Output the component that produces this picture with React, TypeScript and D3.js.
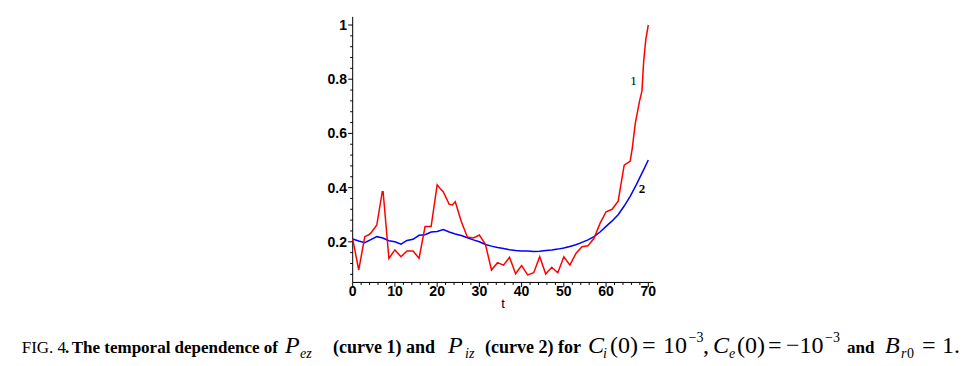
import React from 'react';
import * as d3 from 'd3';

// Curve 1 (P_ez), red
const curve1T = [0, 1.43, 2.86, 3.7, 4.29, 5.71, 7.0, 7.2, 8.57, 10.0, 11.43, 12.86, 14.29, 15.71, 17.14, 18.57, 20.0, 20.7, 21.43, 22.86, 23.6, 24.29, 25.71, 27.14, 28.57, 30.0, 31.43, 32.86, 34.29, 35.71, 37.14, 38.57, 40.0, 41.43, 42.86, 44.29, 45.71, 47.14, 48.57, 50.0, 51.43, 52.86, 54.29, 55.71, 57.14, 58.57, 60.0, 61.43, 62.86, 64.29, 65.71, 66.2, 66.9, 67.9, 68.5, 68.9, 69.4, 70.0];
const curve1V = [0.21, 0.096, 0.219, 0.225, 0.232, 0.262, 0.385, 0.385, 0.139, 0.17, 0.145, 0.166, 0.166, 0.139, 0.256, 0.256, 0.41, 0.397, 0.385, 0.338, 0.336, 0.348, 0.275, 0.218, 0.214, 0.225, 0.191, 0.096, 0.123, 0.114, 0.143, 0.082, 0.112, 0.078, 0.086, 0.145, 0.081, 0.106, 0.086, 0.145, 0.114, 0.157, 0.182, 0.185, 0.213, 0.268, 0.311, 0.32, 0.35, 0.483, 0.498, 0.545, 0.635, 0.717, 0.757, 0.865, 0.945, 1.0];

// Curve 2 (P_iz), blue
const curve2T = [0, 1.43, 2.86, 4.29, 5.71, 7.14, 8.57, 10.0, 11.43, 12.86, 14.29, 15.71, 17.14, 18.57, 20.0, 21.43, 22.86, 24.29, 25.71, 27.14, 28.57, 30.0, 31.43, 32.86, 34.29, 35.71, 37.14, 38.57, 40.0, 41.43, 42.86, 44.29, 45.71, 47.14, 48.57, 50.0, 51.43, 52.86, 54.29, 55.71, 57.14, 58.57, 60.0, 61.43, 62.86, 64.29, 65.71, 67.14, 68.57, 70.0];
const curve2V = [0.21, 0.203, 0.197, 0.208, 0.219, 0.214, 0.204, 0.2, 0.191, 0.205, 0.209, 0.224, 0.226, 0.236, 0.238, 0.245, 0.236, 0.229, 0.223, 0.215, 0.207, 0.2, 0.19, 0.184, 0.179, 0.175, 0.171, 0.168, 0.166, 0.166, 0.164, 0.165, 0.168, 0.17, 0.173, 0.177, 0.183, 0.189, 0.198, 0.207, 0.219, 0.236, 0.257, 0.277, 0.3, 0.332, 0.368, 0.41, 0.455, 0.502];

const xTicks = [0, 10, 20, 30, 40, 50, 60, 70];
const xTickLabels = ['0', '10', '20', '30', '40', '50', '60', '70'];
const yTicks = [0.2, 0.4, 0.6, 0.8, 1];
const yTickLabels = ['0.2', '0.4', '0.6', '0.8', '1'];
const xMinor = d3.range(0, 71, 2);
const yMinor = d3.range(2, 26).map((k) => k * 0.04);

const AXIS_MIN_Y = 0.05;
const AXIS_MAX_Y = 1.03;
const AXIS_MAX_X = 71.2;

const sans = 'Liberation Sans, Arial, sans-serif';
const serif = 'Liberation Serif, Times New Roman, serif';

export default function App() {
  const x = d3.scaleLinear().domain([0, 70]).range([352.7, 648.3]);
  const y = d3.scaleLinear().domain([0, 1]).range([296, 25]);
  const mk = (ts: number[], vs: number[]) =>
    d3
      .line<number>()
      .x((t) => x(t))
      .y((_, i) => y(vs[i]))(ts) as string;
  const axisY = y(AXIS_MIN_Y);
  const axisX = x(0);

  const base = 353;
  const mathSize = 24;
  const subSize = 14;
  const txt = 17;

  return (
    <svg
      width={965}
      height={366}
      style={{ position: 'absolute', left: 0, top: 0, background: '#fff' }}
    >
      <rect x={0} y={0} width={965} height={366} fill="#fff" />
      {/* axes */}
      <line x1={axisX} x2={x(AXIS_MAX_X)} y1={axisY} y2={axisY} stroke="#000" strokeWidth={1} />
      <line x1={axisX} x2={axisX} y1={axisY} y2={y(AXIS_MAX_Y)} stroke="#000" strokeWidth={1} />
      {xMinor.map((t) => (
        <line key={'xm' + t} x1={x(t)} x2={x(t)} y1={axisY} y2={axisY + (t % 10 === 0 ? 4.5 : 2.5)} stroke="#000" strokeWidth={1} />
      ))}
      {yMinor.map((v, i) => (
        <line key={'ym' + i} x1={axisX} x2={axisX - ((i + 2) % 5 === 0 ? 4.5 : 2.5)} y1={y(v)} y2={y(v)} stroke="#000" strokeWidth={1} />
      ))}
      {xTicks.map((t, i) => (
        <text key={'xl' + t} x={x(t)} y={296} textAnchor="middle" fontFamily={sans} fontWeight="bold" fontSize={14} fill="#000">
          {xTickLabels[i]}
        </text>
      ))}
      {yTicks.map((v, i) => (
        <text key={'yl' + v} x={347} y={y(v) + 5} textAnchor="end" fontFamily={sans} fontWeight="bold" fontSize={14} fill="#000">
          {yTickLabels[i]}
        </text>
      ))}
      <text x={503} y={308} textAnchor="middle" fontFamily={sans} fontSize={13} fill="#000">t</text>

      {/* curves */}
      <path d={mk(curve2T, curve2V)} fill="none" stroke="#0000ff" strokeWidth={1.5} />
      <path d={mk(curve1T, curve1V)} fill="none" stroke="#ff0000" strokeWidth={1.5} />
      <text x={633.5} y={84.5} textAnchor="middle" fontFamily={serif} fontSize={13} fill="#000">1</text>
      <text x={642} y={193} textAnchor="middle" fontFamily={serif} fontWeight="bold" fontSize={13} fill="#000">2</text>

      {/* caption */}
      <g fontFamily={serif} fill="#000">
        <text x={21.7} y={base} fontSize={txt}>FIG. 4</text>
        <text x={65} y={base} fontSize={txt} fontWeight="bold">.</text>
        <text x={71.7} y={base} fontSize={txt} fontWeight="bold">The temporal dependence of</text>
        <text x={285} y={base} fontSize={mathSize} fontStyle="italic">P</text>
        <text x={300} y={base + 5} fontSize={subSize} fontStyle="italic">ez</text>
        <text x={333} y={base} fontSize={18} fontWeight="bold">(curve 1) and</text>
        <text x={448} y={base} fontSize={mathSize} fontStyle="italic">P</text>
        <text x={465} y={base + 5} fontSize={subSize} fontStyle="italic">iz</text>
        <text x={485} y={base} fontSize={18} fontWeight="bold">(curve 2) for</text>
        <text x={588} y={base} fontSize={mathSize} fontStyle="italic">C</text>
        <text x={603} y={base + 5} fontSize={subSize} fontStyle="italic">i</text>
        <text x={610} y={base} fontSize={mathSize}>(0)</text>
        <text x={642} y={base} fontSize={mathSize}>=</text>
        <text x={663} y={base} fontSize={mathSize}>10</text>
        <text x={688.5} y={base - 11} fontSize={subSize}>−3</text>
        <text x={703} y={base} fontSize={mathSize}>,</text>
        <text x={713} y={base} fontSize={mathSize} fontStyle="italic">C</text>
        <text x={729} y={base + 5} fontSize={subSize} fontStyle="italic">e</text>
        <text x={737} y={base} fontSize={mathSize}>(0)</text>
        <text x={768} y={base} fontSize={mathSize}>=</text>
        <text x={786} y={base} fontSize={mathSize}>−10</text>
        <text x={825} y={base - 11} fontSize={subSize}>−3</text>
        <text x={847} y={base} fontSize={txt} fontWeight="bold">and</text>
        <text x={885} y={base} fontSize={mathSize} fontStyle="italic">B</text>
        <text x={901} y={base + 5} fontSize={subSize} fontStyle="italic">r</text>
        <text x={907} y={base + 5} fontSize={subSize}>0</text>
        <text x={922} y={base} fontSize={mathSize}>=</text>
        <text x={942} y={base} fontSize={mathSize}>1.</text>
      </g>
    </svg>
  );
}
